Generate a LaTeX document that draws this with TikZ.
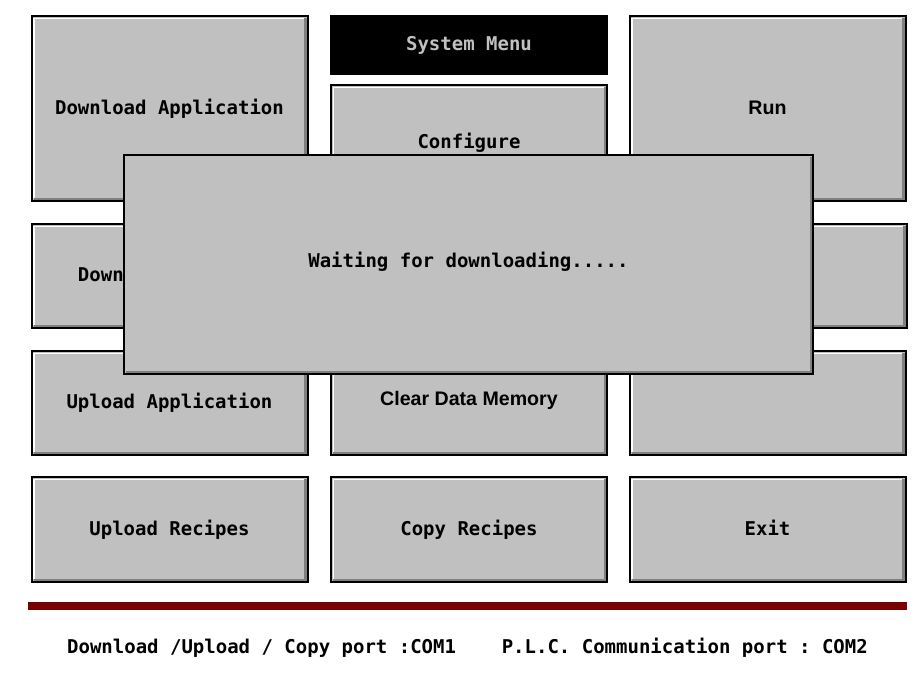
\documentclass[tikz,border=0pt]{standalone}
\usepackage{fontspec}
\setmonofont{DejaVu Sans Mono}
\setsansfont{Liberation Sans}
\definecolor{panel}{HTML}{C0C0C0}
\definecolor{bevel}{HTML}{808080}
\definecolor{rulered}{HTML}{780000}
\tikzset{
  btn/.style={draw=black, line width=1pt, fill=panel, inner sep=0pt,
    minimum width=138pt, text height=7pt, text depth=1.5pt,
    font=\ttfamily\bfseries\fontsize{9.5}{11}\selectfont,
    path picture={
      \draw[white, line width=0.6pt]
        ([shift={(1.2pt,1.5pt)}]path picture bounding box.south west)
        |- ([shift={(-1.5pt,-1.2pt)}]path picture bounding box.north east);
      \draw[bevel, line width=1.3pt]
        ([shift={(1.2pt,1.1pt)}]path picture bounding box.south west)
        -| ([shift={(-1.1pt,-1.2pt)}]path picture bounding box.north east);
    }},
  sansbtn/.style={btn, font=\sffamily\bfseries\fontsize{9.8}{11}\selectfont}
}
\begin{document}
\begin{tikzpicture}[x=0.5pt, y=-0.5pt]
  \useasboundingbox[fill=white] (0,0) rectangle (917,691);

  % left column
  \node (dlapp) at (169.5,108.5) [btn, minimum height=92.5pt] {Download Application};
  \node (dlrec) at (169.5,276) [btn, minimum height=52pt] {Download Recipes};
  \node (ulapp) at (169.5,403) [btn, minimum height=52pt] {Upload Application};
  \node (ulrec) at (169.5,529.5) [btn, minimum height=52.5pt] {Upload Recipes};

  % middle column
  \node (sysmenu) at (469,45) [btn, minimum height=29pt, fill=black, text=panel,
    path picture={}] {System Menu};
  \node (config) at (469,143) [btn, minimum height=58pt] {Configure};
  \node (clear) at (469,403) [sansbtn, minimum height=52pt, text depth=5pt] {Clear Data Memory};
  \node (copyrec) at (469,529.5) [btn, minimum height=52.5pt] {Copy Recipes};

  % right column
  \node (run) at (767.5,108.5) [sansbtn, minimum height=92.5pt] {Run};
  \node (lang) at (768.5,276) [sansbtn, minimum height=52pt] {Language};
  \node (blank) at (767.5,403) [btn, minimum height=52pt] {};
  \node (exit) at (767.5,529.5) [btn, minimum height=52.5pt] {Exit};

  % message window
  \node (wait) at (468.5,264.5) [btn, minimum width=344.5pt, minimum height=109.5pt,
    text depth=4pt, line width=1.2pt,
    path picture={
      \draw[bevel, line width=1.3pt]
        ([shift={(0.9pt,1.1pt)}]path picture bounding box.south west)
        -| ([shift={(-1.1pt,-0.9pt)}]path picture bounding box.north east);
    }] {Waiting for downloading.....};

  % status line
  \coordinate (ruleL) at (28,606);
  \coordinate (ruleR) at (907,606);
  \draw[rulered, line width=4pt] (ruleL) -- (ruleR);
  \node (ports) at (467.5,648) [font=\ttfamily\bfseries\fontsize{9.5}{11}\selectfont]
    {Download /Upload / Copy port :COM1~~~~P.L.C. Communication port : COM2};
\end{tikzpicture}
\end{document}
